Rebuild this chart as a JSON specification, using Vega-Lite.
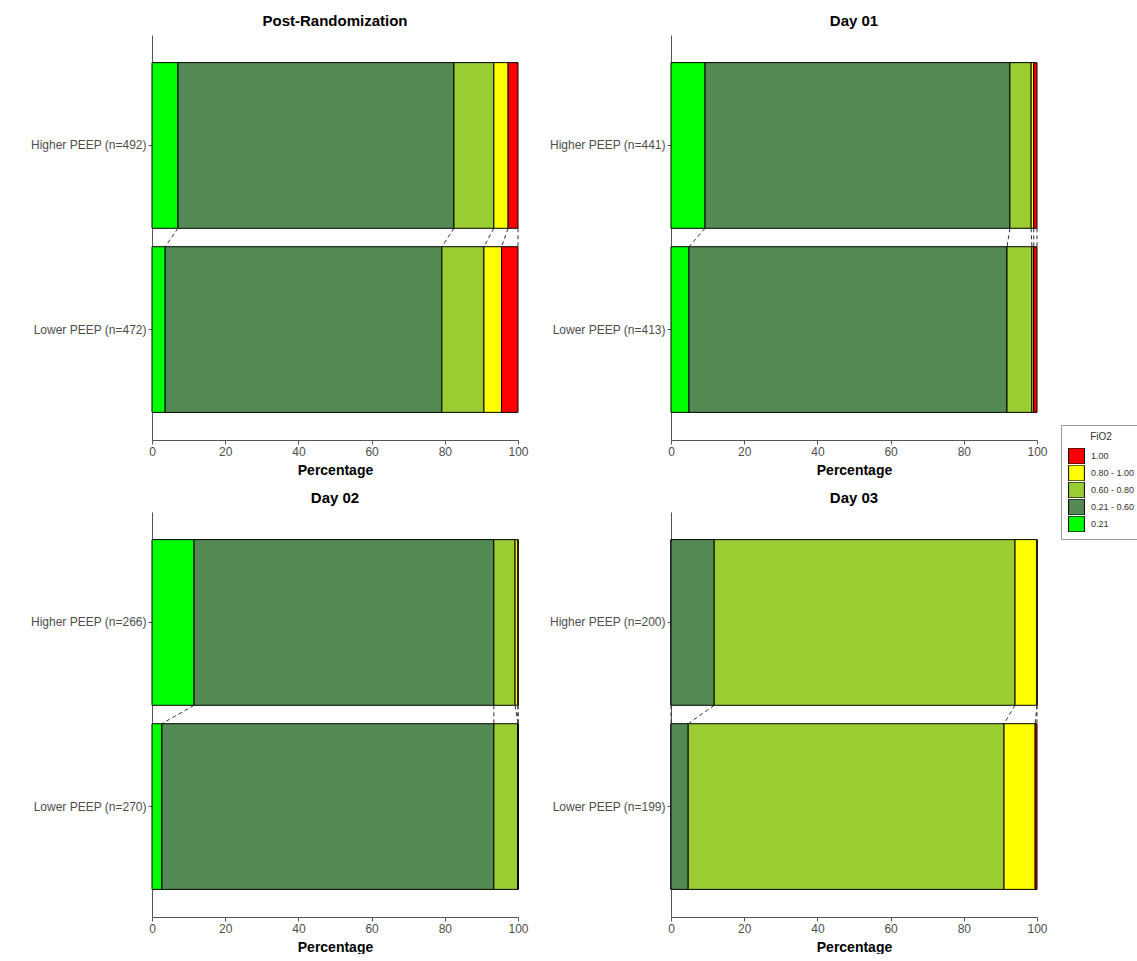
{
  "$schema": "https://vega.github.io/schema/vega-lite/v6.json",
  "padding": {"left": 30, "top": 14, "right": 0, "bottom": 0},
  "background": "white",
  "datasets": {
    "d": [
      {"panel": "Post-Randomization", "arm": "H", "label": "Higher PEEP (n=492)", "k": 1, "fio2": "0.21", "pct": 7.1},
      {"panel": "Post-Randomization", "arm": "H", "label": "Higher PEEP (n=492)", "k": 2, "fio2": "0.21 - 0.60", "pct": 75.4},
      {"panel": "Post-Randomization", "arm": "H", "label": "Higher PEEP (n=492)", "k": 3, "fio2": "0.60 - 0.80", "pct": 10.9},
      {"panel": "Post-Randomization", "arm": "H", "label": "Higher PEEP (n=492)", "k": 4, "fio2": "0.80 - 1.00", "pct": 3.9},
      {"panel": "Post-Randomization", "arm": "H", "label": "Higher PEEP (n=492)", "k": 5, "fio2": "1.00", "pct": 2.7},
      {"panel": "Post-Randomization", "arm": "L", "label": "Lower PEEP (n=472)", "k": 1, "fio2": "0.21", "pct": 3.6},
      {"panel": "Post-Randomization", "arm": "L", "label": "Lower PEEP (n=472)", "k": 2, "fio2": "0.21 - 0.60", "pct": 75.6},
      {"panel": "Post-Randomization", "arm": "L", "label": "Lower PEEP (n=472)", "k": 3, "fio2": "0.60 - 0.80", "pct": 11.5},
      {"panel": "Post-Randomization", "arm": "L", "label": "Lower PEEP (n=472)", "k": 4, "fio2": "0.80 - 1.00", "pct": 4.8},
      {"panel": "Post-Randomization", "arm": "L", "label": "Lower PEEP (n=472)", "k": 5, "fio2": "1.00", "pct": 4.5},
      {"panel": "Day 01", "arm": "H", "label": "Higher PEEP (n=441)", "k": 1, "fio2": "0.21", "pct": 9.3},
      {"panel": "Day 01", "arm": "H", "label": "Higher PEEP (n=441)", "k": 2, "fio2": "0.21 - 0.60", "pct": 83.3},
      {"panel": "Day 01", "arm": "H", "label": "Higher PEEP (n=441)", "k": 3, "fio2": "0.60 - 0.80", "pct": 5.8},
      {"panel": "Day 01", "arm": "H", "label": "Higher PEEP (n=441)", "k": 4, "fio2": "0.80 - 1.00", "pct": 0.7},
      {"panel": "Day 01", "arm": "H", "label": "Higher PEEP (n=441)", "k": 5, "fio2": "1.00", "pct": 0.9},
      {"panel": "Day 01", "arm": "L", "label": "Lower PEEP (n=413)", "k": 1, "fio2": "0.21", "pct": 4.9},
      {"panel": "Day 01", "arm": "L", "label": "Lower PEEP (n=413)", "k": 2, "fio2": "0.21 - 0.60", "pct": 86.9},
      {"panel": "Day 01", "arm": "L", "label": "Lower PEEP (n=413)", "k": 3, "fio2": "0.60 - 0.80", "pct": 6.8},
      {"panel": "Day 01", "arm": "L", "label": "Lower PEEP (n=413)", "k": 4, "fio2": "0.80 - 1.00", "pct": 0.5},
      {"panel": "Day 01", "arm": "L", "label": "Lower PEEP (n=413)", "k": 5, "fio2": "1.00", "pct": 0.9},
      {"panel": "Day 02", "arm": "H", "label": "Higher PEEP (n=266)", "k": 1, "fio2": "0.21", "pct": 11.5},
      {"panel": "Day 02", "arm": "H", "label": "Higher PEEP (n=266)", "k": 2, "fio2": "0.21 - 0.60", "pct": 81.9},
      {"panel": "Day 02", "arm": "H", "label": "Higher PEEP (n=266)", "k": 3, "fio2": "0.60 - 0.80", "pct": 5.8},
      {"panel": "Day 02", "arm": "H", "label": "Higher PEEP (n=266)", "k": 4, "fio2": "0.80 - 1.00", "pct": 0.8},
      {"panel": "Day 02", "arm": "H", "label": "Higher PEEP (n=266)", "k": 5, "fio2": "1.00", "pct": 0},
      {"panel": "Day 02", "arm": "L", "label": "Lower PEEP (n=270)", "k": 1, "fio2": "0.21", "pct": 2.7},
      {"panel": "Day 02", "arm": "L", "label": "Lower PEEP (n=270)", "k": 2, "fio2": "0.21 - 0.60", "pct": 90.7},
      {"panel": "Day 02", "arm": "L", "label": "Lower PEEP (n=270)", "k": 3, "fio2": "0.60 - 0.80", "pct": 6.6},
      {"panel": "Day 02", "arm": "L", "label": "Lower PEEP (n=270)", "k": 4, "fio2": "0.80 - 1.00", "pct": 0},
      {"panel": "Day 02", "arm": "L", "label": "Lower PEEP (n=270)", "k": 5, "fio2": "1.00", "pct": 0},
      {"panel": "Day 03", "arm": "H", "label": "Higher PEEP (n=200)", "k": 1, "fio2": "0.21", "pct": 0},
      {"panel": "Day 03", "arm": "H", "label": "Higher PEEP (n=200)", "k": 2, "fio2": "0.21 - 0.60", "pct": 11.8},
      {"panel": "Day 03", "arm": "H", "label": "Higher PEEP (n=200)", "k": 3, "fio2": "0.60 - 0.80", "pct": 82.2},
      {"panel": "Day 03", "arm": "H", "label": "Higher PEEP (n=200)", "k": 4, "fio2": "0.80 - 1.00", "pct": 6.0},
      {"panel": "Day 03", "arm": "H", "label": "Higher PEEP (n=200)", "k": 5, "fio2": "1.00", "pct": 0},
      {"panel": "Day 03", "arm": "L", "label": "Lower PEEP (n=199)", "k": 1, "fio2": "0.21", "pct": 0},
      {"panel": "Day 03", "arm": "L", "label": "Lower PEEP (n=199)", "k": 2, "fio2": "0.21 - 0.60", "pct": 4.7},
      {"panel": "Day 03", "arm": "L", "label": "Lower PEEP (n=199)", "k": 3, "fio2": "0.60 - 0.80", "pct": 86.3},
      {"panel": "Day 03", "arm": "L", "label": "Lower PEEP (n=199)", "k": 4, "fio2": "0.80 - 1.00", "pct": 8.5},
      {"panel": "Day 03", "arm": "L", "label": "Lower PEEP (n=199)", "k": 5, "fio2": "1.00", "pct": 0.5}
    ]
  },
  "config": {
    "font": "Liberation Sans",
    "view": {"stroke": null},
    "axis": {"grid": false, "domainColor": "#555", "tickColor": "#555", "labelColor": "#4D4D4D", "labelFontSize": 12, "labelFont": "Liberation Sans", "titleFontSize": 14, "titleFontWeight": "bold", "titleColor": "black", "tickSize": 4, "labelPadding": 2},
    "title": {"fontSize": 15, "fontWeight": "bold", "color": "black", "anchor": "middle", "offset": 6}
  },
  "spacing": 14,
  "vconcat": [
    {"spacing": 20, "hconcat": [
      {
        "width": 366, "height": 405,
        "title": "Post-Randomization",
        "data": {"name": "d"},
        "transform": [{"filter": "datum.panel === 'Post-Randomization'"}],
        "layer": [
          {
            "mark": {"type": "bar", "stroke": "black", "strokeWidth": 1},
            "encoding": {
              "y": {"field": "label", "type": "nominal", "title": null, "scale": {"paddingInner": 0.1, "paddingOuter": 0.15}},
              "x": {"field": "pct", "type": "quantitative", "stack": "zero", "title": "Percentage", "scale": {"domain": [0, 100], "nice": false}, "axis": {"values": [0, 20, 40, 60, 80, 100], "labelFlush": false, "titlePadding": 6}},
              "color": {"field": "fio2", "type": "nominal", "scale": {"domain": ["1.00", "0.80 - 1.00", "0.60 - 0.80", "0.21 - 0.60", "0.21"], "range": ["#FF0000", "#FFFF00", "#9ACD32", "#548B54", "#00FF00"]},
                "legend": {"title": "FiO2", "orient": "none", "legendX": 909, "legendY": 390, "strokeColor": "#999", "fillColor": "white", "padding": 7, "symbolType": "square", "symbolSize": 250, "clipHeight": 16, "symbolStrokeColor": "#333", "symbolStrokeWidth": 1, "symbolOpacity": 1, "labelFontSize": 9, "labelColor": "#333", "labelOffset": 6, "titleFontSize": 10, "titleFontWeight": "normal", "titleColor": "#333", "titleAnchor": "middle", "titlePadding": 6, "rowPadding": 1}},
              "order": {"field": "k", "type": "quantitative"}
            }
          },
          {
            "transform": [
              {"window": [{"op": "sum", "field": "pct", "as": "cum"}], "groupby": ["label"], "sort": [{"field": "k"}], "frame": [null, 0]},
              {"pivot": "arm", "value": "cum", "groupby": ["k"]}
            ],
            "mark": {"type": "rule", "strokeDash": [4, 3], "color": "#333", "strokeWidth": 1},
            "encoding": {
              "x": {"field": "H", "type": "quantitative", "title": "Percentage"},
              "x2": {"field": "L"},
              "y": {"datum": "Higher PEEP (n=492)", "type": "nominal", "bandPosition": 1},
              "y2": {"datum": "Lower PEEP (n=472)", "bandPosition": 0}
            }
          }
        ]
      },
      {
        "width": 366, "height": 405,
        "title": "Day 01",
        "data": {"name": "d"},
        "transform": [{"filter": "datum.panel === 'Day 01'"}],
        "layer": [
          {
            "mark": {"type": "bar", "stroke": "black", "strokeWidth": 1},
            "encoding": {
              "y": {"field": "label", "type": "nominal", "title": null, "scale": {"paddingInner": 0.1, "paddingOuter": 0.15}},
              "x": {"field": "pct", "type": "quantitative", "stack": "zero", "title": "Percentage", "scale": {"domain": [0, 100], "nice": false}, "axis": {"values": [0, 20, 40, 60, 80, 100], "labelFlush": false, "titlePadding": 6}},
              "color": {"field": "fio2", "type": "nominal"},
              "order": {"field": "k", "type": "quantitative"}
            }
          },
          {
            "transform": [
              {"window": [{"op": "sum", "field": "pct", "as": "cum"}], "groupby": ["label"], "sort": [{"field": "k"}], "frame": [null, 0]},
              {"pivot": "arm", "value": "cum", "groupby": ["k"]}
            ],
            "mark": {"type": "rule", "strokeDash": [4, 3], "color": "#333", "strokeWidth": 1},
            "encoding": {
              "x": {"field": "H", "type": "quantitative", "title": "Percentage"},
              "x2": {"field": "L"},
              "y": {"datum": "Higher PEEP (n=441)", "type": "nominal", "bandPosition": 1},
              "y2": {"datum": "Lower PEEP (n=413)", "bandPosition": 0}
            }
          }
        ]
      }
    ]},
    {"spacing": 20, "hconcat": [
      {
        "width": 366, "height": 405,
        "title": "Day 02",
        "data": {"name": "d"},
        "transform": [{"filter": "datum.panel === 'Day 02'"}],
        "layer": [
          {
            "mark": {"type": "bar", "stroke": "black", "strokeWidth": 1},
            "encoding": {
              "y": {"field": "label", "type": "nominal", "title": null, "scale": {"paddingInner": 0.1, "paddingOuter": 0.15}},
              "x": {"field": "pct", "type": "quantitative", "stack": "zero", "title": "Percentage", "scale": {"domain": [0, 100], "nice": false}, "axis": {"values": [0, 20, 40, 60, 80, 100], "labelFlush": false, "titlePadding": 6}},
              "color": {"field": "fio2", "type": "nominal"},
              "order": {"field": "k", "type": "quantitative"}
            }
          },
          {
            "transform": [
              {"window": [{"op": "sum", "field": "pct", "as": "cum"}], "groupby": ["label"], "sort": [{"field": "k"}], "frame": [null, 0]},
              {"pivot": "arm", "value": "cum", "groupby": ["k"]}
            ],
            "mark": {"type": "rule", "strokeDash": [4, 3], "color": "#333", "strokeWidth": 1},
            "encoding": {
              "x": {"field": "H", "type": "quantitative", "title": "Percentage"},
              "x2": {"field": "L"},
              "y": {"datum": "Higher PEEP (n=266)", "type": "nominal", "bandPosition": 1},
              "y2": {"datum": "Lower PEEP (n=270)", "bandPosition": 0}
            }
          }
        ]
      },
      {
        "width": 366, "height": 405,
        "title": "Day 03",
        "data": {"name": "d"},
        "transform": [{"filter": "datum.panel === 'Day 03'"}],
        "layer": [
          {
            "mark": {"type": "bar", "stroke": "black", "strokeWidth": 1},
            "encoding": {
              "y": {"field": "label", "type": "nominal", "title": null, "scale": {"paddingInner": 0.1, "paddingOuter": 0.15}},
              "x": {"field": "pct", "type": "quantitative", "stack": "zero", "title": "Percentage", "scale": {"domain": [0, 100], "nice": false}, "axis": {"values": [0, 20, 40, 60, 80, 100], "labelFlush": false, "titlePadding": 6}},
              "color": {"field": "fio2", "type": "nominal"},
              "order": {"field": "k", "type": "quantitative"}
            }
          },
          {
            "transform": [
              {"window": [{"op": "sum", "field": "pct", "as": "cum"}], "groupby": ["label"], "sort": [{"field": "k"}], "frame": [null, 0]},
              {"pivot": "arm", "value": "cum", "groupby": ["k"]}
            ],
            "mark": {"type": "rule", "strokeDash": [4, 3], "color": "#333", "strokeWidth": 1},
            "encoding": {
              "x": {"field": "H", "type": "quantitative", "title": "Percentage"},
              "x2": {"field": "L"},
              "y": {"datum": "Higher PEEP (n=200)", "type": "nominal", "bandPosition": 1},
              "y2": {"datum": "Lower PEEP (n=199)", "bandPosition": 0}
            }
          }
        ]
      }
    ]}
  ]
}
